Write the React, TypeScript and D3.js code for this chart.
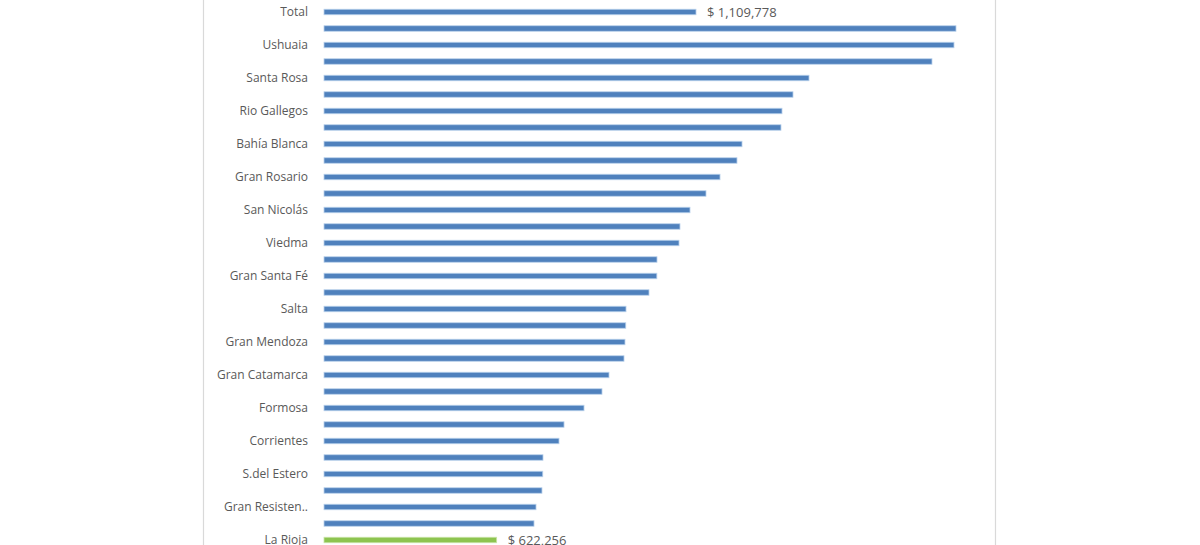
import React from "react";
import * as d3 from "d3";

const categories: string[] = [
  "Total", "", "Ushuaia", "", "Santa Rosa", "", "Rio Gallegos", "", "Bahía Blanca", "",
  "Gran Rosario", "", "San Nicolás", "", "Viedma", "", "Gran Santa Fé", "", "Salta", "",
  "Gran Mendoza", "", "Gran Catamarca", "", "Formosa", "", "Corrientes", "", "S.del Estero", "",
  "Gran Resisten..", "", "La Rioja",
];

const values: number[] = [
  1109778, 1745600, 1740700, 1686900, 1386100, 1347000, 1320100, 1317600, 1222300, 1210000,
  1168500, 1134200, 1095100, 1070600, 1068200, 1014400, 1014000, 994800, 938600, 938000,
  936100, 933700, 897000, 879900, 835900, 787000, 774700, 735600, 735000, 733100,
  718500, 713600, 622256,
];

const highlighted: number[] = [32];
const labelledValues: number[] = [0, 32];
const xDomain: [number, number] = [200000, 1800000];

const W = 1200;
const H = 545;

export default function App() {
  const x = d3.scaleLinear().domain(xDomain).range([324, 324 + 1600000 / 2445.6]);
  const idx = d3.range(categories.length);
  const y = d3.scalePoint<number>().domain(idx).range([12, 540]);
  const barH = 5.5;
  const fmt = d3.format(",");

  return (
    <svg
      width={W}
      height={H}
      style={{ position: "absolute", left: 0, top: 0, background: "#fff" }}
      fontFamily="'Open Sans', 'Liberation Sans', sans-serif"
    >
      <rect x={0} y={0} width={W} height={H} fill="#ffffff" />
      <line x1={203.5} x2={203.5} y1={0} y2={H} stroke="#d9d9d9" strokeWidth={1.2} />
      <line x1={995.5} x2={995.5} y1={0} y2={H} stroke="#d9d9d9" strokeWidth={1.2} />
      {idx.map((i) => {
        const yc = y(i)!;
        const isHi = highlighted.includes(i);
        return (
          <g key={i}>
            <rect
              x={x(xDomain[0])}
              y={yc - barH / 2}
              width={x(values[i]) - x(xDomain[0])}
              height={barH}
              fill={isHi ? "#8dc450" : "#4f81bd"}
              stroke={isHi ? "#c9e5a8" : "#b9d1ec"}
              strokeWidth={0.8}
            />
            {categories[i] !== "" && (
              <text
                x={308}
                y={yc}
                dy="0.35em"
                textAnchor="end"
                fontSize={12}
                fill="#595959"
              >
                {categories[i]}
              </text>
            )}
            {labelledValues.includes(i) && (
              <text
                x={x(values[i]) + 11}
                y={yc}
                dy="0.35em"
                fontSize={13}
                fill="#595959"
              >
                {"$ " + fmt(values[i])}
              </text>
            )}
          </g>
        );
      })}
    </svg>
  );
}
